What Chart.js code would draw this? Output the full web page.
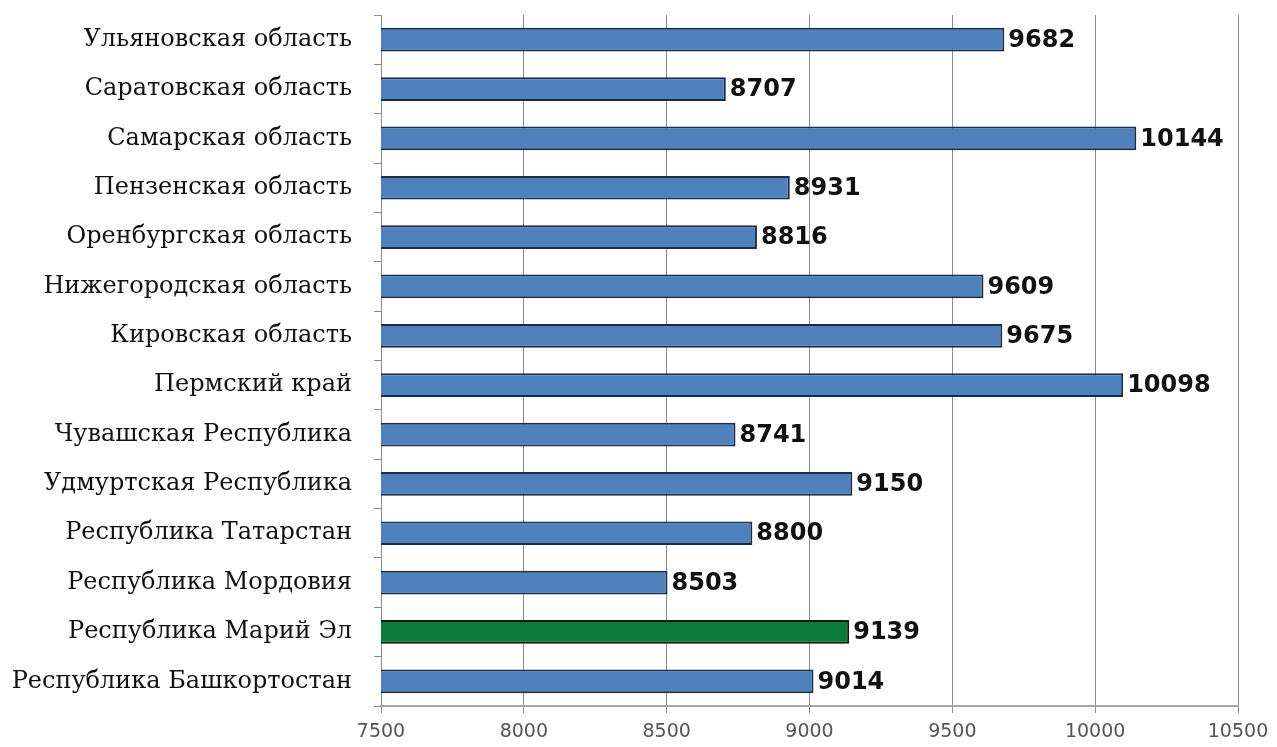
<!DOCTYPE html>
<html>
<head>
<meta charset="utf-8">
<script src="https://cdn.jsdelivr.net/npm/chart.js@4.4.1/dist/chart.umd.min.js"></script>
<style>
  html, body { margin: 0; padding: 0; background: #fff; }
  #wrap { width: 1277px; height: 747px; }
</style>
</head>
<body>
<div id="wrap"><canvas id="chart" width="1277" height="747"></canvas></div>
<script>
// ===== DATA =====
var regions = [
  "Ульяновская область",
  "Саратовская область",
  "Самарская область",
  "Пензенская область",
  "Оренбургская область",
  "Нижегородская область",
  "Кировская область",
  "Пермский край",
  "Чувашская Республика",
  "Удмуртская Республика",
  "Республика Татарстан",
  "Республика Мордовия",
  "Республика Марий Эл",
  "Республика Башкортостан"
];
var values = [9682, 8707, 10144, 8931, 8816, 9609, 9675, 10098, 8741, 9150, 8800, 8503, 9139, 9014];
var highlight = "Республика Марий Эл";
var xMin = 7500, xMax = 10500, xStep = 500;

// ===== COLORS =====
var barColors = regions.map(function (r) { return r === highlight ? "#0c7a38" : "#4f81bd"; });
var borderColors = regions.map(function (r) { return r === highlight ? "#0a1a10" : "#1c2b48"; });

// ===== VALUE LABELS =====
var valueLabels = {
  id: "valueLabels",
  afterDatasetsDraw: function (chart) {
    var ctx = chart.ctx;
    var meta = chart.getDatasetMeta(0);
    ctx.save();
    ctx.font = "bold 24px 'DejaVu Sans'";
    ctx.fillStyle = "#111";
    ctx.textAlign = "left";
    ctx.textBaseline = "middle";
    meta.data.forEach(function (bar, i) {
      ctx.fillText(String(values[i]), bar.x + 4, bar.y + 1);
    });
    ctx.restore();
  }
};

var ctx = document.getElementById("chart").getContext("2d");
var chart = new Chart(ctx, {
  type: "bar",
  data: {
    labels: regions,
    datasets: [{
      data: values,
      backgroundColor: barColors,
      borderColor: borderColors,
      borderWidth: 2,
      borderSkipped: false,
      categoryPercentage: 1,
      barPercentage: 0.48
    }]
  },
  options: {
    indexAxis: "y",
    responsive: false,
    animation: false,
    devicePixelRatio: 1,
    layout: { padding: { top: 15, right: 39, left: 0, bottom: 0 } },
    plugins: {
      legend: { display: false },
      tooltip: { enabled: false }
    },
    scales: {
      x: {
        min: xMin,
        max: xMax,
        ticks: {
          stepSize: xStep,
          color: "#555",
          padding: 8,
          font: { family: "'DejaVu Sans'", size: 19 },
          callback: function (v) { return String(v); }
        },
        grid: { color: "#8c8c8c", lineWidth: 1, tickLength: 7 },
        border: { color: "#a6a6a6", width: 2 },
        afterFit: function (scale) { scale.height = 41; }
      },
      y: {
        ticks: {
          color: "#111",
          padding: 22,
          font: { family: "'DejaVu Serif'", size: 24 }
        },
        grid: { offset: true, drawOnChartArea: false, tickLength: 7, color: "#8c8c8c" },
        border: { color: "#8c8c8c", width: 1 },
        afterFit: function (scale) {
          scale.width = 381;
          scale.paddingTop = 0;
          scale.paddingBottom = 0;
        }
      }
    }
  },
  plugins: [valueLabels]
});
</script>
</body>
</html>
